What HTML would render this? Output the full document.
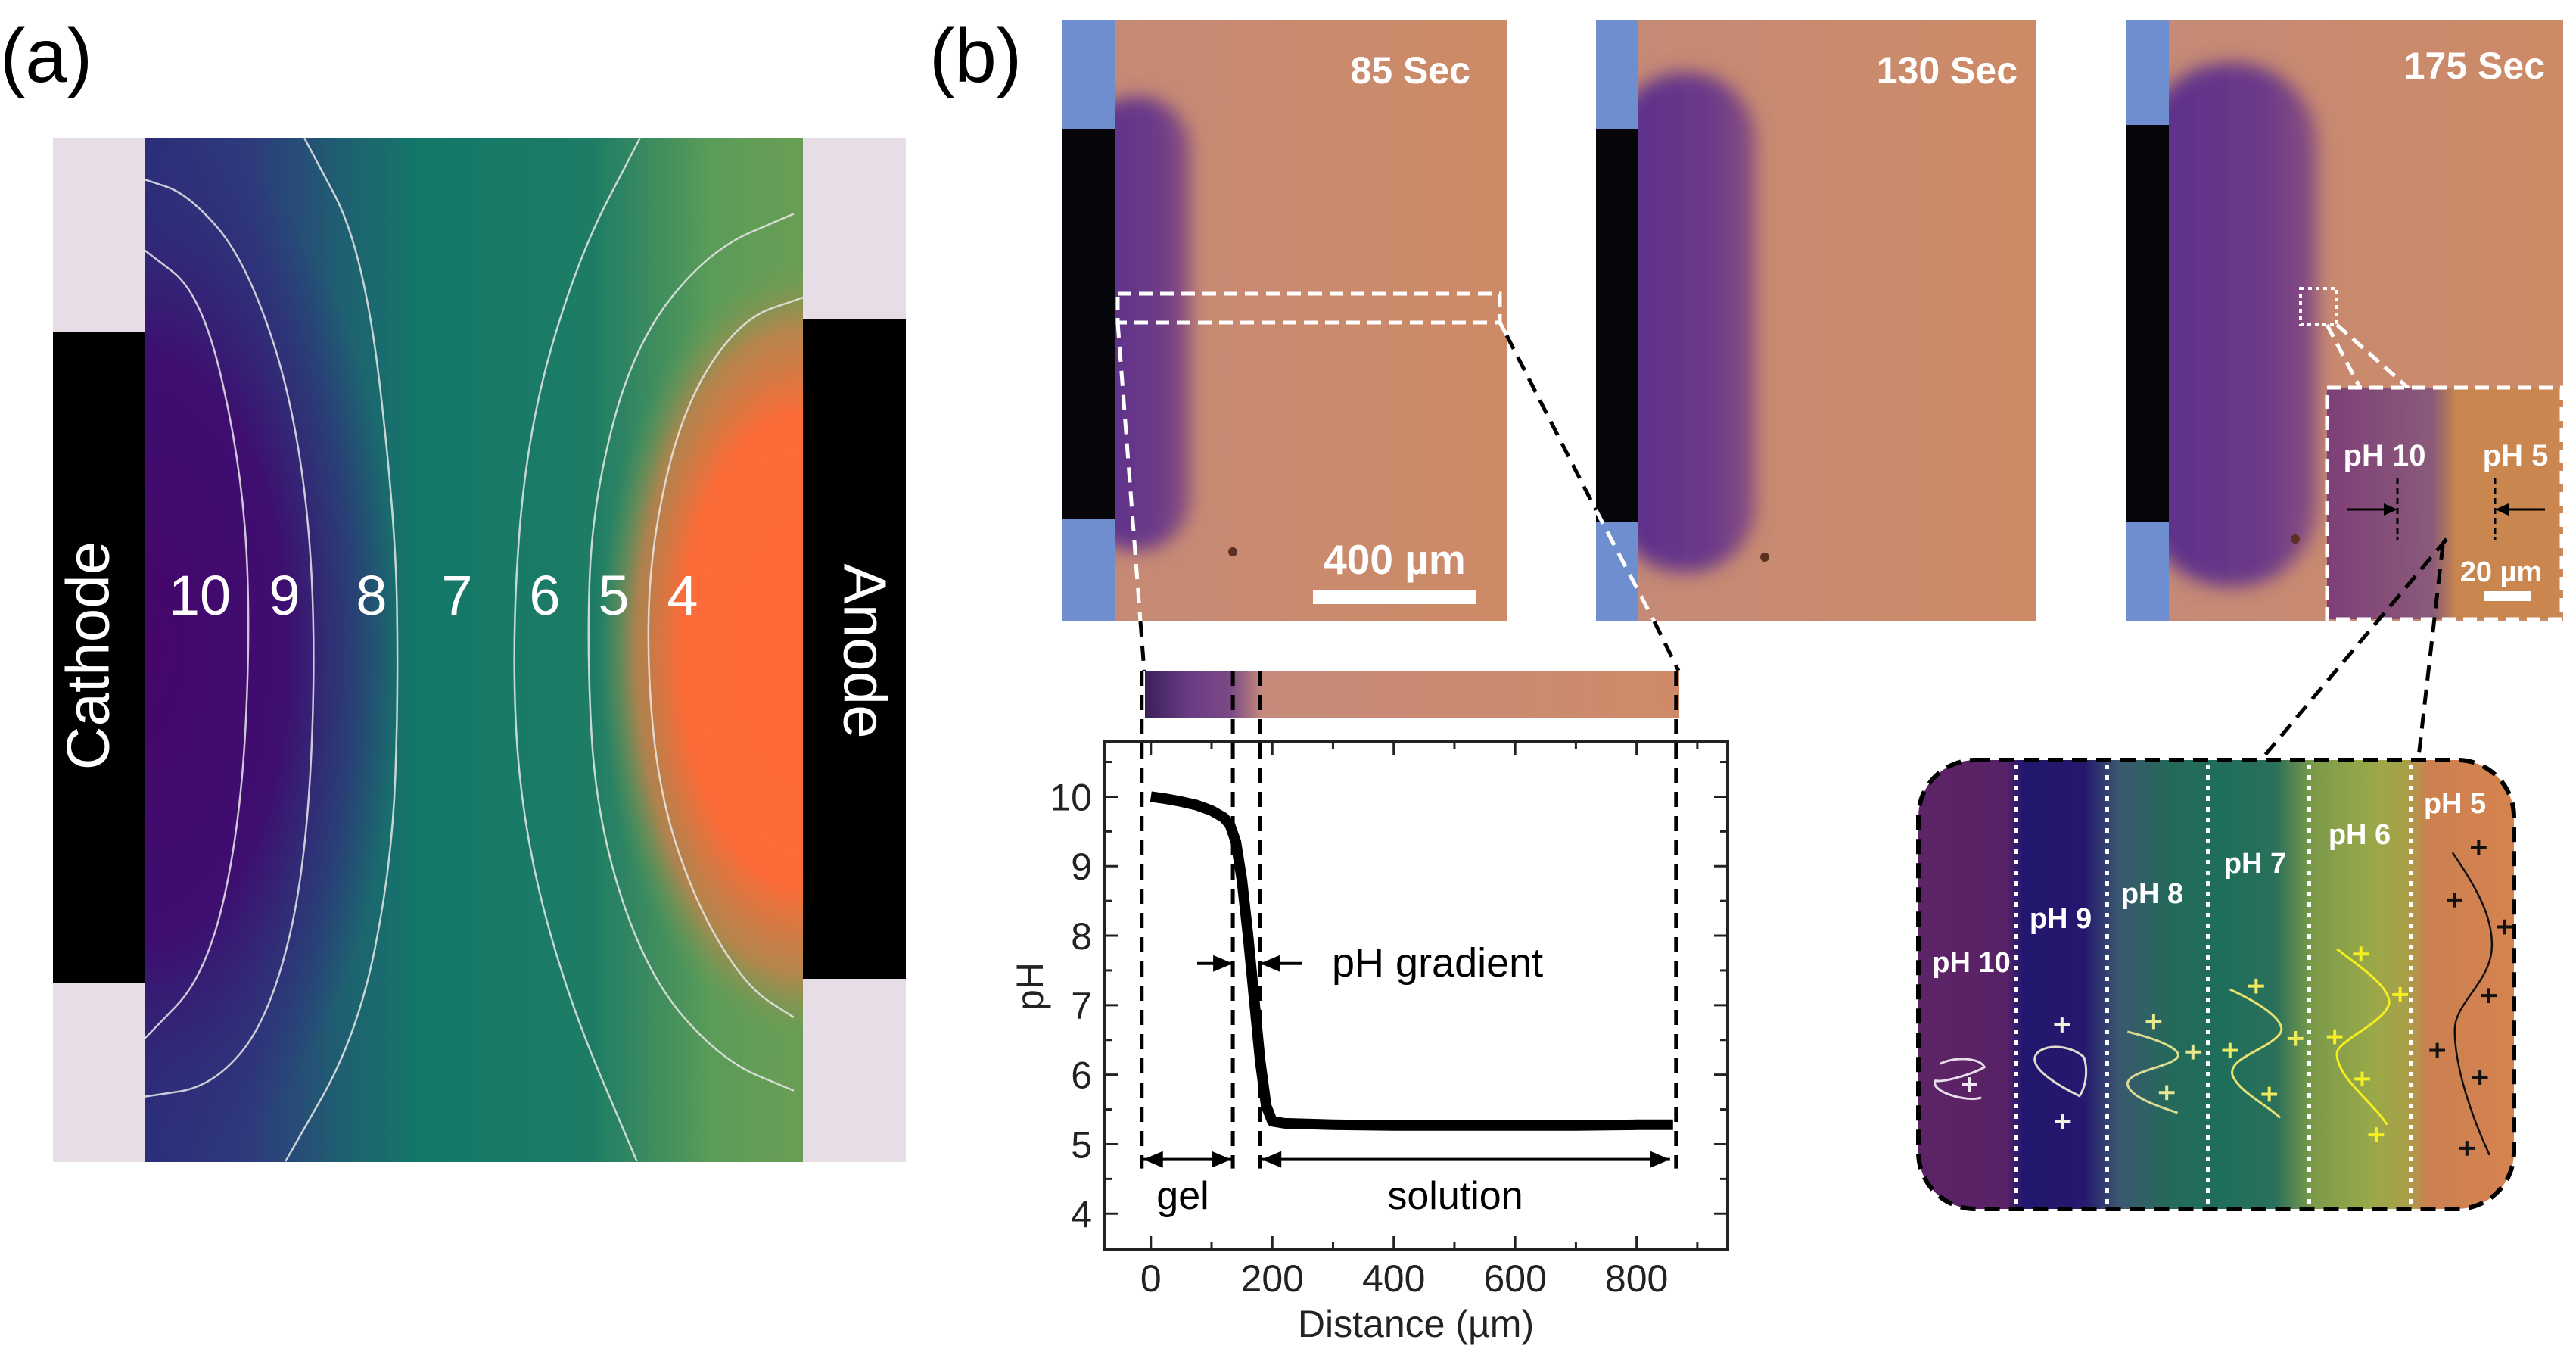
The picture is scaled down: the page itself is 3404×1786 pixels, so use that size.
<!DOCTYPE html>
<html><head><meta charset="utf-8"><style>
html,body{margin:0;padding:0;background:#fff}
svg{display:block}
text{font-family:"Liberation Sans",Arial,sans-serif}
</style></head><body>
<svg id="fig" width="3404" height="1786" viewBox="0 0 3404 1786" xmlns="http://www.w3.org/2000/svg">
<defs>
<filter id="blur" x="-30%" y="-30%" width="160%" height="160%"><feGaussianBlur stdDeviation="12"/></filter>
<filter id="blur2" x="-30%" y="-30%" width="160%" height="160%"><feGaussianBlur stdDeviation="25"/></filter>
<clipPath id="clipA"><rect x="191" y="182" width="870" height="1353"/></clipPath>
<clipPath id="clipP1"><rect x="1404" y="26" width="587" height="795"/></clipPath>
<clipPath id="clipP2"><rect x="2109" y="26" width="582" height="795"/></clipPath>
<clipPath id="clipP3"><rect x="2810" y="26" width="577" height="795"/></clipPath>
<linearGradient id="gA" x1="191" x2="1061" y1="0" y2="0" gradientUnits="userSpaceOnUse">
<stop offset="0" stop-color="#2c2e7a"/><stop offset="0.16" stop-color="#2e3a7c"/><stop offset="0.32" stop-color="#1d6470"/><stop offset="0.42" stop-color="#137868"/><stop offset="0.68" stop-color="#1e7c66"/><stop offset="0.86" stop-color="#5a9c58"/><stop offset="1" stop-color="#6a9e55"/>
</linearGradient>
<radialGradient id="gP" cx="191" cy="860" r="1" gradientUnits="userSpaceOnUse" gradientTransform="translate(191 860) scale(340 700) translate(-191 -860)">
<stop offset="0" stop-color="#46066a"/><stop offset="0.55" stop-color="#3e0e70"/><stop offset="0.82" stop-color="#302a78" stop-opacity="0.6"/><stop offset="1" stop-color="#2c2e7a" stop-opacity="0"/>
</radialGradient>
<radialGradient id="gO" cx="1061" cy="860" r="1" gradientUnits="userSpaceOnUse" gradientTransform="translate(1061 860) scale(270 520) translate(-1061 -860)">
<stop offset="0" stop-color="#ff6a35"/><stop offset="0.6" stop-color="#fb6b38"/><stop offset="0.82" stop-color="#c8804a" stop-opacity="0.8"/><stop offset="1" stop-color="#6a9e55" stop-opacity="0"/>
</radialGradient>
<linearGradient id="gPh" x1="0" x2="1" y1="0" y2="0">
<stop offset="0" stop-color="#c48a78"/><stop offset="1" stop-color="#cd8a66"/>
</linearGradient>
<linearGradient id="gPurp" x1="0" x2="1" y1="0" y2="0">
<stop offset="0" stop-color="#5a2f8c"/><stop offset="0.7" stop-color="#6c3a88"/><stop offset="1" stop-color="#8a5080"/>
</linearGradient>
<linearGradient id="gStrip" x1="1513" x2="2219" y1="0" y2="0" gradientUnits="userSpaceOnUse">
<stop offset="0" stop-color="#3a1f5a"/><stop offset="0.08" stop-color="#6a3b82"/><stop offset="0.16" stop-color="#7a4a86"/><stop offset="0.22" stop-color="#c58a7a"/><stop offset="1" stop-color="#cf8a68"/>
</linearGradient>
<linearGradient id="gInset" x1="0" x2="1" y1="0" y2="0">
<stop offset="0" stop-color="#7e3f78"/><stop offset="0.45" stop-color="#8a5a7a"/><stop offset="0.55" stop-color="#c8864e"/><stop offset="1" stop-color="#cc8650"/>
</linearGradient>
<linearGradient id="gBox" x1="2535" x2="3322" y1="0" y2="0" gradientUnits="userSpaceOnUse">
<stop offset="0" stop-color="#5c2466"/><stop offset="0.146" stop-color="#5a2266"/><stop offset="0.176" stop-color="#22176e"/><stop offset="0.278" stop-color="#25186e"/><stop offset="0.337" stop-color="#3a5870"/><stop offset="0.425" stop-color="#246a5a"/><stop offset="0.513" stop-color="#1f6e5c"/><stop offset="0.6" stop-color="#2a705a"/><stop offset="0.66" stop-color="#7a9a4a"/><stop offset="0.762" stop-color="#9aa848"/><stop offset="0.82" stop-color="#a8a048"/><stop offset="0.857" stop-color="#cc8050"/><stop offset="1" stop-color="#d6834f"/>
</linearGradient>
<clipPath id="clipBox"><rect x="2535" y="1004" width="787" height="593" rx="75"/></clipPath>
</defs>

<text x="0" y="108" font-size="100">(a)</text>
<text x="1228" y="108" font-size="100">(b)</text>

<g>
<rect x="70" y="182" width="1127" height="1353" fill="#e6dde6"/>
<rect x="70" y="438" width="125" height="860" fill="#000"/>
<rect x="1061" y="421" width="136" height="872" fill="#000"/>
<rect x="191" y="182" width="870" height="1353" fill="url(#gA)"/>
<rect x="191" y="182" width="870" height="1353" fill="url(#gP)"/>
<rect x="191" y="182" width="870" height="1353" fill="url(#gO)"/>
<g id="contours" fill="none" stroke="#e8e8e8" stroke-width="2.5" opacity="0.85"></g>
<text x="116" y="866" font-size="80" fill="#fff" text-anchor="middle" dominant-baseline="central" transform="rotate(-90 116 866)">Cathode</text>
<text x="1143" y="860" font-size="80" fill="#fff" text-anchor="middle" dominant-baseline="central" transform="rotate(90 1143 860)">Anode</text>
<g font-size="74" fill="#fff" text-anchor="middle">
<text x="264" y="812">10</text><text x="376" y="812">9</text><text x="491" y="812">8</text><text x="604" y="812">7</text><text x="720" y="812">6</text><text x="811" y="812">5</text><text x="902" y="812">4</text>
</g>
</g>

<g>
<rect x="1404" y="26" width="587" height="795" fill="url(#gPh)"/>
<g clip-path="url(#clipP1)"><rect x="1430" y="128" width="143" height="599" rx="70" fill="url(#gPurp)" filter="url(#blur)"/></g>
<rect x="1404" y="26" width="70" height="795" fill="#6f8ed0"/>
<rect x="1404" y="170" width="70" height="516" fill="#05050a"/>
<circle cx="1629" cy="729" r="6" fill="#5a3020"/>
<text x="1943" y="110" font-size="50" font-weight="bold" fill="#fff" text-anchor="end">85 Sec</text>
<text x="1843" y="758" font-size="55" font-weight="bold" fill="#fff" text-anchor="middle">400 µm</text>
<rect x="1735" y="779" width="215" height="19" fill="#fff"/>
<rect x="1477" y="388" width="505" height="38" fill="none" stroke="#fff" stroke-width="5" stroke-dasharray="18 10"/>
</g>
<g>
<rect x="2109" y="26" width="582" height="795" fill="url(#gPh)"/>
<g clip-path="url(#clipP2)"><rect x="2135" y="96" width="185" height="660" rx="90" fill="url(#gPurp)" filter="url(#blur)"/></g>
<rect x="2109" y="26" width="56" height="795" fill="#6f8ed0"/>
<rect x="2109" y="170" width="56" height="520" fill="#05050a"/>
<circle cx="2332" cy="736" r="6" fill="#5a3020"/>
<text x="2666" y="110" font-size="50" font-weight="bold" fill="#fff" text-anchor="end">130 Sec</text>
</g>
<g>
<rect x="2810" y="26" width="577" height="795" fill="url(#gPh)"/>
<g clip-path="url(#clipP3)"><rect x="2835" y="83" width="227" height="692" rx="110" fill="url(#gPurp)" filter="url(#blur)"/></g>
<rect x="2810" y="26" width="56" height="795" fill="#6f8ed0"/>
<rect x="2810" y="165" width="56" height="525" fill="#05050a"/>
<circle cx="3033" cy="712" r="6" fill="#5a3020"/>
<text x="3363" y="104" font-size="50" font-weight="bold" fill="#fff" text-anchor="end">175 Sec</text>
<rect x="3040" y="381" width="48" height="48" fill="none" stroke="#fff" stroke-width="4" stroke-dasharray="5 5"/>
<line x1="3075" y1="429" x2="3119" y2="513" stroke="#fff" stroke-width="5" stroke-dasharray="18 10"/>
<line x1="3088" y1="429" x2="3183" y2="513" stroke="#fff" stroke-width="5" stroke-dasharray="18 10"/>
<rect x="3075" y="512" width="310" height="306" fill="url(#gInset)"/>
<rect x="3075" y="512" width="310" height="306" fill="none" stroke="#fff" stroke-width="5" stroke-dasharray="18 10"/>
<text x="3151" y="615" font-size="40" font-weight="bold" fill="#fff" text-anchor="middle">pH 10</text>
<text x="3324" y="615" font-size="40" font-weight="bold" fill="#fff" text-anchor="middle">pH 5</text>
<line x1="3168" y1="632" x2="3168" y2="714" stroke="#000" stroke-width="3" stroke-dasharray="8 5"/>
<line x1="3297" y1="632" x2="3297" y2="714" stroke="#000" stroke-width="3" stroke-dasharray="8 5"/>
<line x1="3102" y1="673" x2="3160" y2="673" stroke="#000" stroke-width="3"/><polygon points="3168,673 3150,665 3150,681" fill="#000"/>
<line x1="3363" y1="673" x2="3305" y2="673" stroke="#000" stroke-width="3"/><polygon points="3297,673 3315,665 3315,681" fill="#000"/>
<text x="3305" y="768" font-size="38" font-weight="bold" fill="#fff" text-anchor="middle">20 µm</text>
<rect x="3283" y="781" width="62" height="13" fill="#fff"/>
</g>

<g stroke-width="5" stroke-dasharray="20 12" fill="none">
<line x1="1477" y1="426" x2="1507" y2="821" stroke="#fff"/>
<line x1="1507" y1="821" x2="1512" y2="886" stroke="#000"/>
<line x1="1982" y1="426" x2="1991" y2="443" stroke="#fff"/>
<line x1="1991" y1="443" x2="2109" y2="674" stroke="#000"/>
<line x1="2109" y1="674" x2="2186" y2="821" stroke="#fff"/>
<line x1="2186" y1="821" x2="2218" y2="886" stroke="#000"/>
<line x1="3233" y1="712" x2="2991" y2="1000" stroke="#000"/>
<line x1="3228" y1="720" x2="3196" y2="1000" stroke="#000"/>
</g>

<rect x="1513" y="886" width="706" height="62" fill="url(#gStrip)"/>

<g id="chart"></g>

<g>
<g clip-path="url(#clipBox)"><rect x="2535" y="1004" width="787" height="593" fill="url(#gBox)"/></g>
<g id="dividers" stroke="#fff" stroke-width="6" stroke-dasharray="6 8"></g>
<rect x="2535" y="1004" width="787" height="593" rx="75" fill="none" stroke="#000" stroke-width="6" stroke-dasharray="20 12"/>
<g transform="translate(2500,950) scale(0.5765,0.4464)" fill="none">
<path d="M110,1020 C150,995 205,1005 212,1030 C185,1050 120,1075 100,1070 C85,1100 170,1135 205,1120" stroke="#e8dde8" stroke-width="3" vector-effect="non-scaling-stroke"/>
<path d="M440,1000 C400,955 335,965 328,1000 C320,1040 390,1090 430,1115 C448,1080 448,1030 440,1000" stroke="#e2dccc" stroke-width="3" vector-effect="non-scaling-stroke"/>
<path d="M540,925 C620,950 665,980 655,1000 C640,1030 540,1040 540,1080 C545,1120 620,1150 655,1165" stroke="#dcdc90" stroke-width="3" vector-effect="non-scaling-stroke"/>
<path d="M775,800 C860,850 905,900 890,930 C860,980 775,1000 780,1050 C790,1100 870,1150 890,1180" stroke="#e8e070" stroke-width="3" vector-effect="non-scaling-stroke"/>
<path d="M1020,680 C1080,740 1140,790 1140,840 C1130,900 1020,950 1020,990 C1020,1060 1100,1130 1135,1200" stroke="#f4f020" stroke-width="3" vector-effect="non-scaling-stroke"/>
<path d="M1285,395 C1330,480 1380,580 1375,680 C1370,780 1290,840 1290,920 C1290,1030 1330,1180 1370,1290" stroke="#111" stroke-width="2.5" vector-effect="non-scaling-stroke"/>
<g id="pluses"></g>
</g>
<g font-size="38" font-weight="bold" fill="#fff" text-anchor="middle">
<text x="2605" y="1284">pH 10</text><text x="2723" y="1226">pH 9</text><text x="2844" y="1193">pH 8</text><text x="2980" y="1153">pH 7</text><text x="3118" y="1115">pH 6</text><text x="3244" y="1074">pH 5</text>
</g>
</g>
</svg>
<script>
const distance = [0, 25, 50, 75, 100, 120, 130, 140, 150, 160, 170, 180, 190, 200, 220, 300, 400, 500, 600, 700, 800, 860];
const phValues = [10.0, 9.97, 9.93, 9.88, 9.8, 9.7, 9.6, 9.35, 8.8, 8.0, 7.1, 6.2, 5.55, 5.33, 5.3, 5.28, 5.27, 5.27, 5.27, 5.27, 5.28, 5.28];
const xTickLabels = [0, 200, 400, 600, 800];
const yTickLabels = [4, 5, 6, 7, 8, 9, 10];
const boundaries = [-15, 135, 180, 865];

const NS = 'http://www.w3.org/2000/svg';
const X0 = 1459, X1 = 2283, Y0 = 979, Y1 = 1651;
const xMin = -77, xMax = 950, yMin = 3.48, yMax = 10.8;
function sx(v){ return X0 + (v - xMin) / (xMax - xMin) * (X1 - X0); }
function sy(v){ return Y1 - (v - yMin) / (yMax - yMin) * (Y1 - Y0); }
function mk(tag, attrs, parent){ const e = document.createElementNS(NS, tag); for (const k in attrs) e.setAttribute(k, attrs[k]); parent.appendChild(e); return e; }
const chart = document.getElementById('chart');

const frame = mk('rect', {x:X0, y:Y0, width:X1-X0, height:Y1-Y0, fill:'none', stroke:'#222', 'stroke-width':4}, chart);



for (let v = 0; v <= 900; v += 100) {
  const major = xTickLabels.includes(v); const L = major ? 18 : 10;
  mk('line', {x1:sx(v), x2:sx(v), y1:Y1, y2:Y1-L, stroke:'#222','stroke-width':3}, chart);
  mk('line', {x1:sx(v), x2:sx(v), y1:Y0, y2:Y0+L, stroke:'#222','stroke-width':3}, chart);
}
for (let v = 4; v <= 10.5; v += 0.5) {
  const major = Number.isInteger(v); const L = major ? 18 : 10;
  mk('line', {x1:X0, x2:X0+L, y1:sy(v), y2:sy(v), stroke:'#222','stroke-width':3}, chart);
  mk('line', {x1:X1, x2:X1-L, y1:sy(v), y2:sy(v), stroke:'#222','stroke-width':3}, chart);
}
xTickLabels.forEach(v => {
  const t = mk('text', {x:sx(v), y:1706, 'font-size':50, 'text-anchor':'middle', fill:'#222'}, chart);
  t.textContent = v;
  
  
});
yTickLabels.forEach(v => {
  const t = mk('text', {x:1443, y:sy(v)+18, 'font-size':50, 'text-anchor':'end', fill:'#222'}, chart);
  t.textContent = v;
  
  
});
const xt = mk('text', {x:1871, y:1766, 'font-size':50, 'text-anchor':'middle', fill:'#222'}, chart);
xt.textContent = 'Distance (µm)';


const yt = mk('text', {x:1378, y:1303, 'font-size':50, 'text-anchor':'middle', fill:'#222', transform:'rotate(-90 1378 1303)'}, chart);
yt.textContent = 'pH';



boundaries.forEach(b => {
  const l = mk('line', {x1:sx(b), x2:sx(b), y1:886, y2:sy(4.65), stroke:'#000','stroke-width':5,'stroke-dasharray':'20 12'}, chart);
  
  
});

const d = distance.map((x,i) => (i ? 'L' : 'M') + sx(x).toFixed(1) + ',' + sy(phValues[i]).toFixed(1)).join(' ');
const curve = mk('path', {d:d, fill:'none', stroke:'#000', 'stroke-width':14, 'stroke-linejoin':'round'}, chart);



function arrow(xa, xb, y, head){
  mk('line', {x1:xa, x2:xb, y1:y, y2:y, stroke:'#000','stroke-width':4}, chart);
  head.forEach(([tip, dir]) => mk('polygon', {points:`${tip},${y} ${tip-dir*26},${y-11} ${tip-dir*26},${y+11}`, fill:'#000'}, chart));
}
arrow(sx(boundaries[0])+2, sx(boundaries[1])-2, sy(4.78), [[sx(boundaries[0])+2,-1],[sx(boundaries[1])-2,1]]);
arrow(sx(boundaries[2])+2, sx(boundaries[3])-8, sy(4.78), [[sx(boundaries[2])+2,-1],[sx(boundaries[3])-8,1]]);
arrow(1582, sx(boundaries[1]), sy(7.6), [[sx(boundaries[1]),1]]);
arrow(sx(boundaries[2]), 1720, sy(7.6), [[sx(boundaries[2]),-1]]);
const g1 = mk('text', {x:1563, y:1597, 'font-size':52, 'text-anchor':'middle'}, chart); g1.textContent = 'gel';


const g2 = mk('text', {x:1923, y:1597, 'font-size':52, 'text-anchor':'middle'}, chart); g2.textContent = 'solution';


const g3 = mk('text', {x:1760, y:1290, 'font-size':54}, chart); g3.textContent = 'pH gradient';



const contourPts = [
 [[230,208],[300,225],[390,300],[470,470],[505,700],[490,1000],[430,1180],[340,1260],[230,1272]],
 [[230,290],[320,340],[380,520],[400,700],[385,950],[330,1130],[230,1205]],
 [[485,160],[580,290],[630,600],[635,800],[625,1000],[570,1200],[455,1347]],
 [[1020,160],[920,300],[840,500],[815,740],[830,950],[900,1150],[1015,1347]],
 [[1265,248],[1130,290],[1010,400],[945,580],[935,750],[950,950],[1030,1130],[1150,1230],[1265,1265]],
 [[1280,345],[1180,370],[1090,470],[1040,620],[1030,760],[1050,920],[1110,1050],[1190,1145],[1265,1180]]
];
const cg = document.getElementById('contours');
contourPts.forEach(pts => {
  const P = pts.map(([x,y]) => [x/1.206, y/0.878]);
  let s = 'M' + P[0].join(',');
  for (let i = 1; i < P.length; i++) {
    const p0 = P[i-1], p1 = P[i];
    s += ' Q' + p0[0] + ',' + p0[1] + ' ' + ((p0[0]+p1[0])/2) + ',' + ((p0[1]+p1[1])/2);
  }
  s += ' L' + P[P.length-1].join(',');
  const p = mk('path', {d:s}, cg);
  
  
});

const dv = document.getElementById('dividers');
[2664, 2784, 2918, 3051, 3186].forEach(x => {
  const l = mk('line', {x1:x, x2:x, y1:1010, y2:1592}, dv);
  
  
});
const plusList = [
 [178,1082,'#f0e8f0'],[390,905,'#f4f0e0'],[392,1190,'#f4f0e0'],
 [600,895,'#e8e890'],[690,985,'#e8e890'],[630,1105,'#e8e890'],
 [835,790,'#eeea60'],[775,980,'#eeea60'],[925,945,'#eeea60'],[865,1110,'#eeea60'],
 [1075,695,'#f6f020'],[1165,815,'#f6f020'],[1015,940,'#f6f020'],[1078,1065,'#f6f020'],[1110,1230,'#f6f020'],
 [1345,380,'#111'],[1290,535,'#111'],[1405,615,'#111'],[1368,818,'#111'],[1250,980,'#111'],[1348,1060,'#111'],[1318,1270,'#111']
];
const pg = document.getElementById('pluses');
plusList.forEach(([x,y,c]) => {
  const p = mk('path', {d:`M${x-18},${y} H${x+18} M${x},${y-22} V${y+22}`, stroke:c, 'stroke-width':4, 'vector-effect':'non-scaling-stroke'}, pg);
  
  
});
</script>
</body></html>
